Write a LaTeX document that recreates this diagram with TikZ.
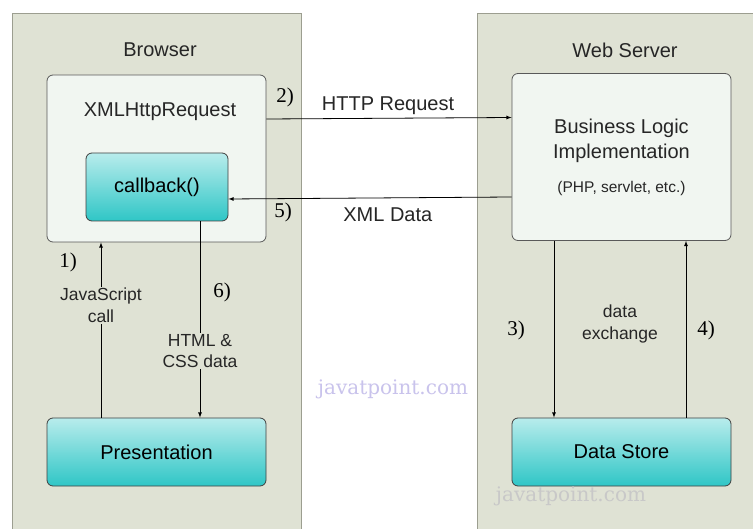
\documentclass[tikz,border=0pt]{standalone}
\usepackage{fontspec}
\setmainfont{Liberation Sans}
\newfontfamily\numfont{Liberation Serif}
\newfontfamily\markfont{DejaVu Serif}
\definecolor{PanelFill}{HTML}{DFE2D4}
\definecolor{PanelLine}{HTML}{9C9E90}
\definecolor{BoxFill}{HTML}{F1F6F1}
\definecolor{TealTop}{HTML}{B8ECEC}
\definecolor{TealBottom}{HTML}{2FC6C6}
\definecolor{MarkBlue}{HTML}{C9C3EC}
\definecolor{MarkGrey}{HTML}{C8C8C8}
\begin{document}
\begin{tikzpicture}[x=1pt,y=-1pt]

      \tikzstyle{OuterBlock} = [
      rectangle,
      rounded corners=6pt,
      minimum width=219pt,
      minimum height=167pt,
      draw=black!65,
      fill=BoxFill,
      line width=0.8pt
      ]

      \tikzstyle{TealBlock} = [
      rectangle,
      rounded corners=6pt,
      minimum height=68pt,
      draw=black!75,
      top color=TealTop,
      bottom color=TealBottom,
      line width=0.8pt,
      font=\fontsize{20}{24}\selectfont
      ]

      \tikzstyle{BigText} = [font=\fontsize{20}{25}\selectfont, text=black!85, align=center]
      \tikzstyle{SmallText} = [font=\fontsize{17.5}{21.5}\selectfont, text=black!85, align=center]
      \tikzstyle{StepNo} = [font=\numfont\fontsize{21}{24}\selectfont]
      \tikzstyle{Flow} = [-latex, line width=0.8pt]
      \tikzstyle{WaterMark} = [font=\markfont\fontsize{20}{24}\selectfont]

      \useasboundingbox (0,0) rectangle (753,529);
      \clip (0,0) rectangle (753,529);
      \fill[white] (0,0) rectangle (753,529);

      % panels
      \draw[PanelLine, fill=PanelFill, line width=1pt] (12,14) rectangle (301,540);
      \draw[PanelLine, fill=PanelFill, line width=1pt] (477,14) rectangle (770,540);

      \node (BrowserTitle) [BigText] at (160,50) {Browser};
      \node (ServerTitle) [BigText] at (625,50) {Web Server};

      \node (XmlRequest) [OuterBlock] at (156.5,158.5) {};
      \node (XmlTitle) [BigText] at (160,112) {XMLHttpRequest};
      \node (Callback) [TealBlock, minimum width=142pt] at (157,187) {callback()};

      \node (BusinessLogic) [OuterBlock, BigText] at (621.5,157) {
        Business Logic\\
        Implementation\\[9pt]
        {\fontsize{15.5}{18}\selectfont (PHP, servlet, etc.)}
      };

      \node (Presentation) [TealBlock, minimum width=219pt] at (156.5,452) {Presentation};
      \node (DataStore) [TealBlock, minimum width=219pt] at (621.5,452) {Data Store};

      \draw [Flow] ([yshift=39.5pt]XmlRequest.east) -- node[pos=0.496, above, BigText]{HTTP Request} ([yshift=39.5pt]BusinessLogic.west);
      \draw [Flow] ([yshift=-40pt]BusinessLogic.west) -- node[pos=0.437, below=6pt, BigText]{XML Data} ([yshift=-12pt]Callback.east);
      \draw [Flow] ([xshift=-55.5pt]Presentation.north) -- node[pos=0.64, fill=PanelFill, inner sep=1pt, SmallText]{JavaScript\\call} ([xshift=-55.5pt]XmlRequest.south);
      \draw [Flow] ([xshift=43pt]Callback.south) -- node[pos=0.66, fill=PanelFill, inner sep=1pt, SmallText]{HTML \&\\CSS data} ([xshift=43.5pt]Presentation.north);
      \draw [Flow] ([xshift=-67.5pt]BusinessLogic.south) -- ([xshift=-67.5pt]DataStore.north);
      \draw [Flow] ([xshift=64.5pt]DataStore.north) -- ([xshift=64.5pt]BusinessLogic.south);

      \node (Exchange) [SmallText] at (620,324) {data\\exchange};

      \node (StepOne) [StepNo] at (68,262) {1)};
      \node (StepTwo) [StepNo] at (285,97) {2)};
      \node (StepThree) [StepNo] at (516,330) {3)};
      \node (StepFour) [StepNo] at (706,330) {4)};
      \node (StepFive) [StepNo] at (283,212) {5)};
      \node (StepSix) [StepNo] at (222,292) {6)};

      \node (MarkOne) [WaterMark, text=MarkBlue] at (393,389) {javatpoint.com};
      \node (MarkTwo) [WaterMark, text=MarkGrey] at (571,496) {javatpoint.com};

    \end{tikzpicture}
\end{document}
